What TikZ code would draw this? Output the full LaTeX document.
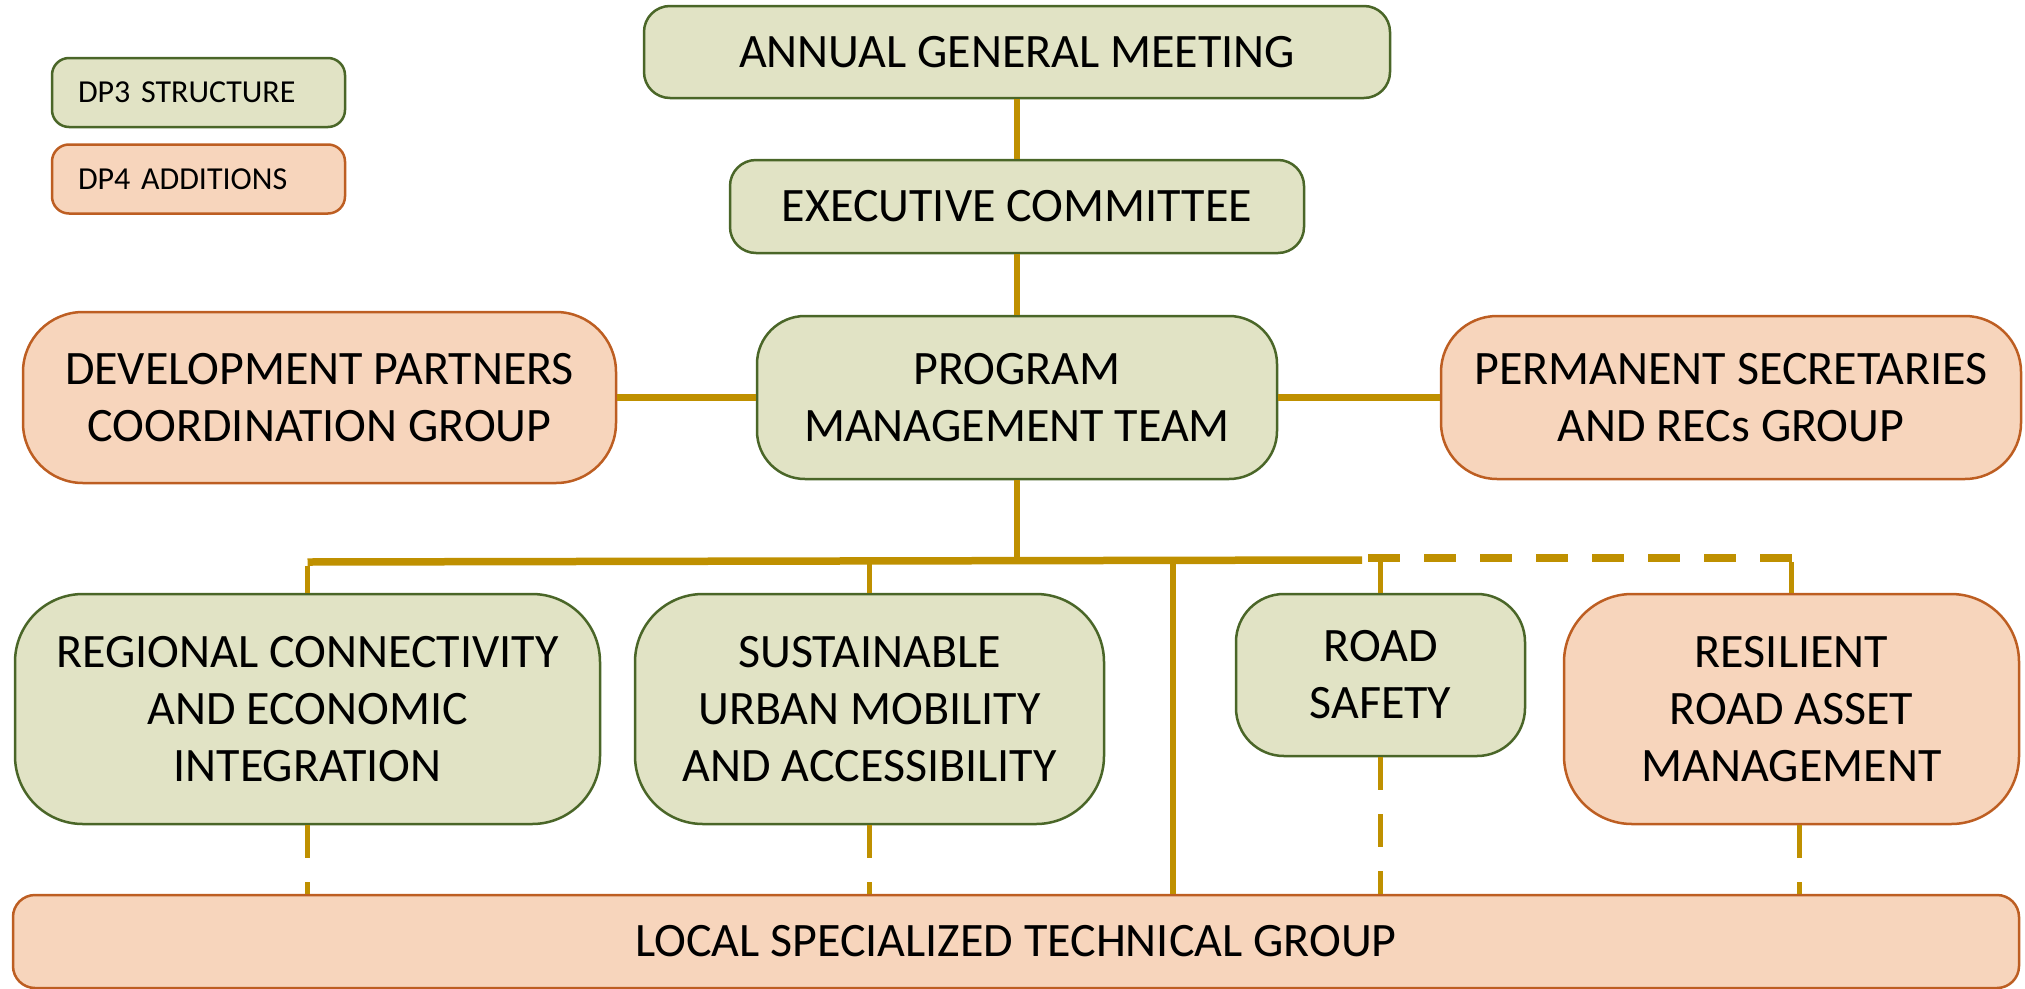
\documentclass[tikz,border=0pt]{standalone}
\usepackage{fontspec}
\setmainfont{Carlito}
\definecolor{gfill}{HTML}{E1E3C5}
\definecolor{gline}{HTML}{4A6628}
\definecolor{ofill}{HTML}{F7D5BC}
\definecolor{oline}{HTML}{BD5E22}
\definecolor{gold}{HTML}{BF9000}
\tikzset{
  box/.style={draw, line width=2.5pt, align=center, inner sep=0pt,
    font=\fontsize{48}{57}\selectfont},
  gbox/.style={box, fill=gfill, draw=gline},
  obox/.style={box, fill=ofill, draw=oline},
  legend/.style={line width=2.5pt, align=left, inner xsep=26pt, inner ysep=0pt,
    text width=241pt, minimum height=69pt, rounded corners=17pt,
    font=\fontsize{32}{38}\selectfont},
  vcon/.style={draw=gold, line width=5.5pt},
  hcon/.style={draw=gold, line width=7.5pt},
  hdash/.style={draw=gold, line width=7.5pt, dash pattern=on 32pt off 24pt},
  vdash/.style={draw=gold, line width=5pt, dash pattern=on 33pt off 24pt},
}
\begin{document}
\begin{tikzpicture}[x=1pt,y=-1pt]
\useasboundingbox (0,0) rectangle (2025,988);
% legend
\node[legend, fill=gfill, draw=gline] (dp3) at (198.5,92.5) {DP3 STRUCTURE};
\node[legend, fill=ofill, draw=oline] (dp4) at (198.5,179) {DP4 ADDITIONS};
% top chain
\node[gbox, minimum width=746pt, minimum height=92pt, rounded corners=26pt] (agm) at (1017,52) {ANNUAL GENERAL MEETING};
\node[gbox, minimum width=574pt, minimum height=93pt, rounded corners=26pt] (exec) at (1017,206.5) {EXECUTIVE COMMITTEE};
\node[gbox, minimum width=520pt, minimum height=163pt, rounded corners=48pt] (pmt) at (1017,397.5) {PROGRAM\\MANAGEMENT TEAM};
\node[obox, minimum width=593pt, minimum height=171pt, rounded corners=60pt] (dpcg) at (319.5,397.5) {DEVELOPMENT PARTNERS\\COORDINATION GROUP};
\node[obox, minimum width=580pt, minimum height=163pt, rounded corners=56pt] (psrg) at (1731,397.5) {PERMANENT SECRETARIES\\AND RECs GROUP};
% third row
\node[gbox, minimum width=585pt, minimum height=230pt, rounded corners=68pt] (rcei) at (307.5,709) {REGIONAL CONNECTIVITY\\AND ECONOMIC\\INTEGRATION};
\node[gbox, minimum width=469pt, minimum height=230pt, rounded corners=68pt] (suma) at (869.5,709) {SUSTAINABLE\\URBAN MOBILITY\\AND ACCESSIBILITY};
\node[gbox, minimum width=289pt, minimum height=162pt, rounded corners=48pt] (rs) at (1380.5,675) {ROAD\\SAFETY};
\node[obox, minimum width=455pt, minimum height=230pt, rounded corners=68pt] (rram) at (1791.5,709) {RESILIENT\\ROAD ASSET\\MANAGEMENT};
% bottom
\node[obox, minimum width=2006pt, minimum height=93pt, rounded corners=22pt] (lstg) at (1016,941.5) {LOCAL SPECIALIZED TECHNICAL GROUP};
% connectors
\coordinate (bus) at (1017,561);
\coordinate (busL) at (307.5,562);
\coordinate (busE) at (1362,560);
\coordinate (busD) at (1368,558);
\coordinate (busR) at (1795,558);
\coordinate (mid) at (1173,561);
\draw[vcon] (agm.south) -- (exec.north);
\draw[vcon] (exec.south) -- (pmt.north);
\draw[hcon] (dpcg.east) -- (pmt.west);
\draw[hcon] (pmt.east) -- (psrg.west);
\draw[vcon] (pmt.south) -- (bus);
\draw[hcon] (busL) -- (busE);
\draw[vcon] ([yshift=-3.75pt]busL) -- (rcei.north);
\draw[vcon] (suma.north |- bus) -- (suma.north);
\draw[vcon] (mid) -- (mid |- lstg.north);
\draw[vcon] (rs.north |- busD) -- (rs.north);
\draw[hdash] (busD) -- (busR);
\draw[vcon] ([yshift=-3.75pt]rram.north |- busR) -- (rram.north);
\draw[vdash] (rcei.south) -- (rcei.south |- lstg.north);
\draw[vdash] (suma.south) -- (suma.south |- lstg.north);
\draw[vdash] (rs.south) -- (rs.south |- lstg.north);
\draw[vdash] ([xshift=8pt]rram.south) -- ([xshift=8pt]rram.south |- lstg.north);
\end{tikzpicture}
\end{document}
